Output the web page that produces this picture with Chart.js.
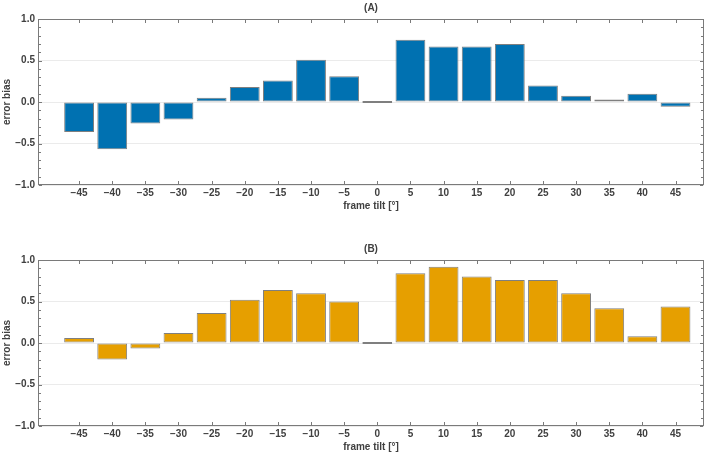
<!DOCTYPE html>
<html>
<head>
<meta charset="utf-8">
<script src="https://cdn.jsdelivr.net/npm/chart.js@4.4.0/dist/chart.umd.min.js"></script>
<style>
  html, body { margin: 0; padding: 0; background: #fff; overflow: hidden; }
  .wrap { position: absolute; left: 0; width: 708px; height: 215px; }
  canvas { display: block; }
</style>
</head>
<body>
<div class="wrap" style="top:0px"><canvas id="cA" width="708" height="215"></canvas></div>
<div class="wrap" style="top:241px"><canvas id="cB" width="708" height="215"></canvas></div>
<script>
// ---- data ----
const tilts = [-45, -40, -35, -30, -25, -20, -15, -10, -5, 0, 5, 10, 15, 20, 25, 30, 35, 40, 45];
const biasA = [-0.36, -0.57, -0.26, -0.21, 0.05, 0.18, 0.26, 0.51, 0.31, 0.0, 0.75, 0.67, 0.67, 0.70, 0.20, 0.076, 0.03, 0.10, -0.056];
const biasB = [0.06, -0.20, -0.065, 0.12, 0.36, 0.52, 0.64, 0.60, 0.50, 0.0, 0.84, 0.92, 0.80, 0.76, 0.76, 0.60, 0.42, 0.08, 0.44];
const xTickValues = [-45, -40, -35, -30, -25, -20, -15, -10, -5, 0, 5, 10, 15, 20, 25, 30, 35, 40, 45];
const yTickValues = [-1.0, -0.5, 0.0, 0.5, 1.0];
const yMinorValues = [-0.9, -0.8, -0.7, -0.6, -0.4, -0.3, -0.2, -0.1, 0.1, 0.2, 0.3, 0.4, 0.6, 0.7, 0.8, 0.9];
const panelTitles = ['(A)', '(B)'];
const xTitle = 'frame tilt [°]';
const yTitle = 'error bias';

const FONT = '"Liberation Sans", Arial, Helvetica, sans-serif';
const TXT = '#404040';
const FRAME = '#7a7a7a';

function fmtMinus(s) { return s.replace('-', '\u2212'); }

const framePlugin = {
  id: 'frameTicks',
  afterDraw(chart, args, opts) {
    const ctx = chart.ctx;
    const a = chart.chartArea;
    const xs = chart.scales.x, ys = chart.scales.y;
    ctx.save();
    ctx.globalAlpha = 1;
    ctx.fillStyle = FRAME;
    const L = Math.round(a.left), R = Math.round(a.right) - 1;
    const T = Math.round(a.top), B = Math.round(a.bottom) - 1;
    ctx.fillRect(L, T, R - L + 1, 1);
    ctx.fillRect(L, B, R - L + 1, 1);
    ctx.fillRect(L, T, 1, B - T + 1);
    ctx.fillRect(R, T, 1, B - T + 1);
    xTickValues.forEach(v => {
      const px = Math.round(xs.getPixelForValue(v));
      ctx.fillRect(px, T + 1, 1, 3);
      ctx.fillRect(px, B - 3, 1, 3);
    });
    yTickValues.forEach(v => {
      const py = Math.round(ys.getPixelForValue(v));
      ctx.fillRect(L + 1, py, 3, 1);
      ctx.fillRect(R - 3, py, 3, 1);
    });
    yMinorValues.forEach(v => {
      const py = Math.round(ys.getPixelForValue(v));
      ctx.fillRect(L + 1, py, 2, 1);
      ctx.fillRect(R - 2, py, 2, 1);
    });
    ctx.fillStyle = TXT;
    ctx.font = 'bold 10px ' + FONT;
    ctx.textAlign = 'center';
    ctx.textBaseline = 'middle';
    ctx.fillText(opts.text, (a.left + a.right) / 2, 8);
    ctx.restore();
  }
};

function makeChart(id, values, color, title) {
  return new Chart(document.getElementById(id), {
    type: 'bar',
    data: {
      datasets: [{
        data: tilts.map((t, i) => ({ x: t, y: values[i] })),
        backgroundColor: color,
        borderColor: '#7f7f7f',
        borderWidth: 1,
        borderSkipped: false,
        minBarLength: 2,
        barPercentage: 0.9,
        categoryPercentage: 1.0
      }]
    },
    options: {
      responsive: false,
      animation: false,
      events: [],
      layout: { padding: { top: 19, left: 0, right: 4, bottom: 0 } },
      plugins: {
        legend: { display: false },
        tooltip: { enabled: false },
        title: { display: false },
        frameTicks: { text: title }
      },
      scales: {
        x: {
          type: 'linear',
          min: -51.2,
          max: 49.3,
          offset: false,
          afterBuildTicks: s => { s.ticks = xTickValues.map(v => ({ value: v })); },
          afterFit: s => { s.height = 30; },
          grid: { display: false, drawTicks: false },
          border: { display: false },
          ticks: {
            padding: 2,
            color: TXT,
            font: { family: FONT, size: 10, weight: 'bold' },
            maxRotation: 0,
            autoSkip: false,
            callback: v => fmtMinus(String(v))
          },
          title: {
            display: true,
            text: xTitle,
            color: TXT,
            font: { family: FONT, size: 10, weight: 'bold' },
            padding: { top: 0, bottom: 3 }
          }
        },
        y: {
          min: -1,
          max: 1,
          afterBuildTicks: s => { s.ticks = yTickValues.map(v => ({ value: v })); },
          afterFit: s => { s.width = 38; },
          grid: { display: true, drawTicks: false, color: '#ebebeb', lineWidth: 1 },
          border: { display: false },
          ticks: {
            padding: 3,
            color: TXT,
            font: { family: FONT, size: 10, weight: 'bold' },
            callback: v => fmtMinus(Number(v).toFixed(1))
          },
          title: {
            display: true,
            text: yTitle,
            color: TXT,
            font: { family: FONT, size: 10, weight: 'bold' },
            padding: { top: 1, bottom: 0 }
          }
        }
      }
    },
    plugins: [framePlugin]
  });
}

makeChart('cA', biasA, '#0071B1', panelTitles[0]);
makeChart('cB', biasB, '#E69F00', panelTitles[1]);
</script>
</body>
</html>
